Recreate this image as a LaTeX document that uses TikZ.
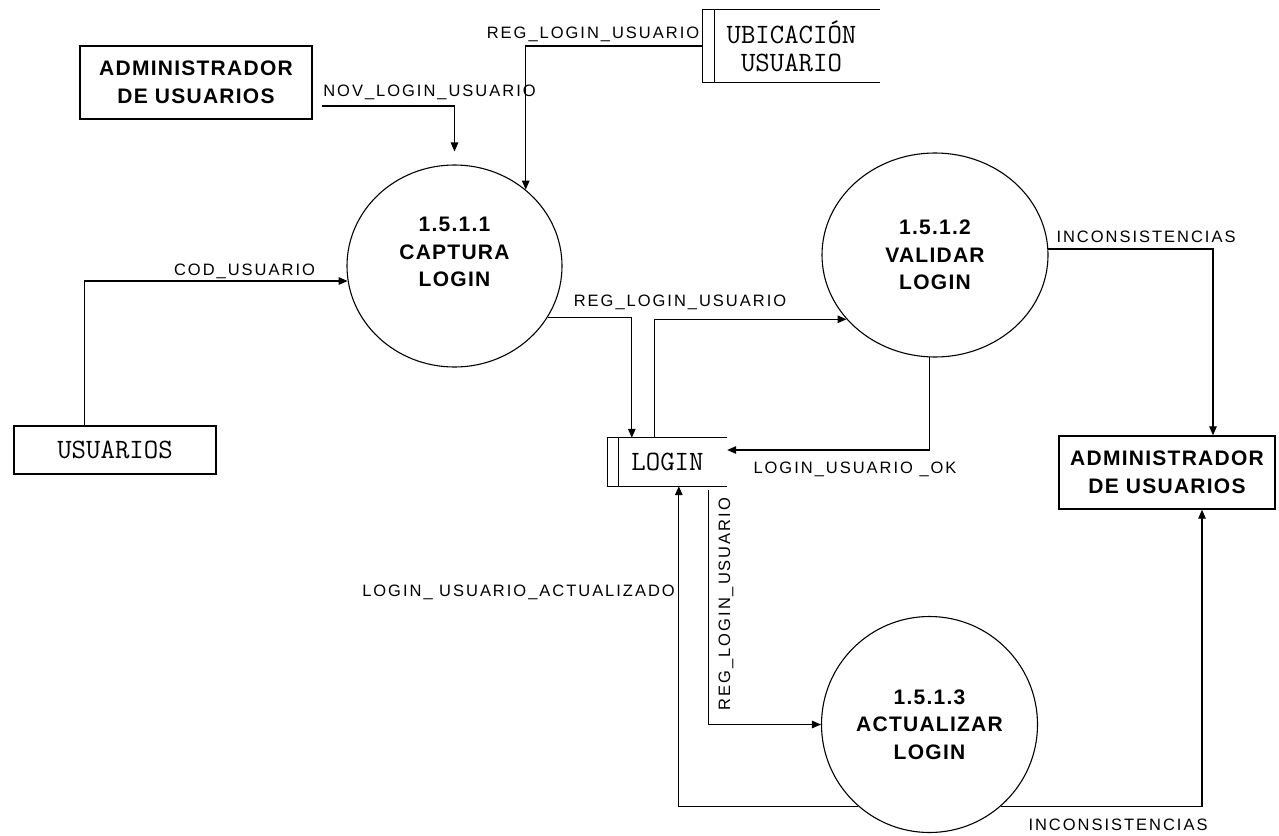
\documentclass[tikz,border=0pt]{standalone}
\usepackage{fontspec}
\setmainfont{Liberation Sans}
\newfontfamily\flowfont[LetterSpace=12]{Liberation Sans}
\newfontfamily\procfont[LetterSpace=6]{Liberation Sans}
\usetikzlibrary{arrows.meta,shapes.geometric}

\begin{document}
\begin{tikzpicture}[x=1pt,y=-1pt,
  every node/.style={inner sep=0pt},
  ent/.style={draw, line width=1.4pt, rectangle, align=center,
    font=\procfont\bfseries\fontsize{21}{27.5}\selectfont},
  proc/.style={draw, line width=1.1pt, ellipse, align=center,
    font=\procfont\bfseries\fontsize{21}{27.5}\selectfont},
  storetxt/.style={align=center, font=\ttfamily\fontsize{28}{28}\selectfont},
  lbl/.style={font=\flowfont\fontsize{16.5}{18}\selectfont},
  flow/.style={line width=1.3pt, -{Triangle[length=9pt,width=7.5pt]}},
  storeline/.style={line width=1.3pt}
]
\useasboundingbox (0,0) rectangle (1279,835);

% external entities
\node[ent, minimum width=232pt, minimum height=73pt] (adm1) at (196,82.5) {ADMINISTRADOR\\DE USUARIOS};
\node[ent, minimum width=216pt, minimum height=73pt] (adm2) at (1167,472.5) {ADMINISTRADOR\\DE USUARIOS};
\node[draw, line width=1.4pt, minimum width=202pt, minimum height=48pt, storetxt] (usu) at (115,450) {USUARIOS};

% processes
\node[proc, minimum width=215pt, minimum height=202pt] (c1) at (454.5,266) {1.5.1.1\\CAPTURA\\LOGIN\\~};
\node[proc, minimum width=226pt, minimum height=204pt] (c2) at (935,255) {1.5.1.2\\VALIDAR\\LOGIN};
\node[proc, minimum width=216pt, minimum height=216pt] (c3) at (929.5,724.5) {1.5.1.3\\ACTUALIZAR\\LOGIN};

% data stores
\node[minimum width=177pt, minimum height=72pt, storetxt] (ubic) at (791.5,46) {UBICACIÓN\\USUARIO};
\draw[storeline] (ubic.north east) -- (ubic.north west) -- (ubic.south west) -- (ubic.south east);
\draw[storeline] ([xshift=12pt]ubic.north west) -- ([xshift=12pt]ubic.south west);

\node[minimum width=119pt, minimum height=48pt, storetxt] (login) at (667.5,462) {LOGIN};
\draw[storeline] (login.north east) -- (login.north west) -- (login.south west) -- (login.south east);
\draw[storeline] ([xshift=11pt]login.north west) -- ([xshift=11pt]login.south west);

% data flows
\coordinate (novstart) at (322,106);
\draw[flow] (novstart) -| ([yshift=13pt]c1.north);
\node[lbl] (lnov) at (429.5,92) {NOV\_LOGIN\_USUARIO};

\draw[flow] (ubic.west) -| (c1.47.1);
\node[lbl] (lregtop) at (593,34) {REG\_LOGIN\_USUARIO};

\draw[flow] ([xshift=71pt]usu.north west) |- (c1.188.8);
\node[lbl] (lcod) at (244.5,271) {COD\_USUARIO};

\draw[flow] (c1.-29.4) -| ([xshift=24pt]login.north west);
\draw[flow] ([xshift=47pt]login.north west) |- (c2.216);
\node[lbl] (lregmid) at (680,302.5) {REG\_LOGIN\_USUARIO};

\draw[flow] (c2.3.5) -| ([xshift=46pt]adm2.north);
\node[lbl] (lincon1) at (1146,237) {INCONSISTENCIAS};

\draw[flow] (c2.-93.4) |- ([yshift=12pt]login.east);
\node[lbl] (lok) at (855,469) {LOGIN\_USUARIO \_OK};

\draw[flow] ([xshift=101pt,yshift=-4pt]login.south west) |- (c3.west);
\node[lbl, rotate=90] (lregv) at (726,604) {REG\_LOGIN\_USUARIO};

\draw[flow] (c3.-131.1) -| ([xshift=71pt]login.south west);
\node[lbl] (lact) at (518.5,592) {LOGIN\_ USUARIO\_ACTUALIZADO};

\draw[flow] (c3.-49.8) -| ([xshift=35pt]adm2.south);
\node[lbl] (lincon2) at (1118,825) {INCONSISTENCIAS};
\end{tikzpicture}
\end{document}
